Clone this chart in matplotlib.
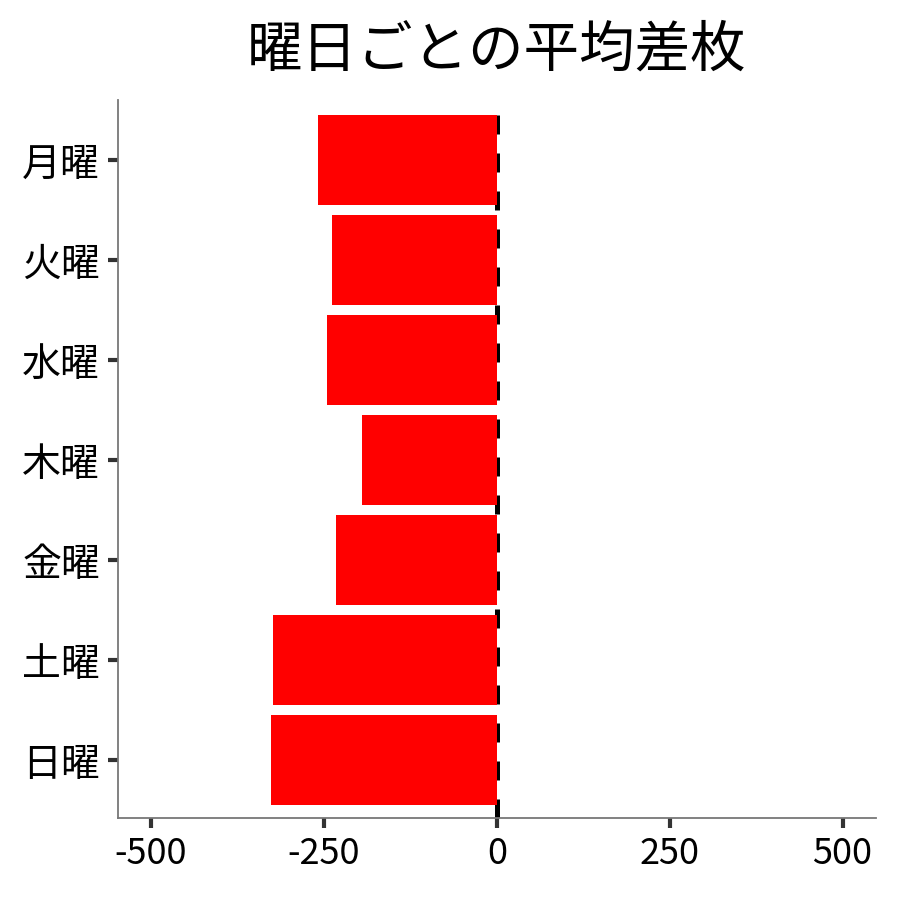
import matplotlib
matplotlib.use("Agg")
import matplotlib.pyplot as plt

plt.rcParams['font.family'] = ['Noto Sans CJK JP', 'DejaVu Sans']

# 曜日ごとの平均差枚
days = ["月曜", "火曜", "水曜", "木曜", "金曜", "土曜", "日曜"]
avg_diff = [-258, -239, -246, -195, -232, -324, -327]

fig = plt.figure(figsize=(9, 9), dpi=100)
ax = fig.add_axes([0.131, 0.091, 0.842, 0.798])

pos = list(range(len(days)))[::-1]
ax.barh(pos, avg_diff, height=0.9, color="#ff0000", zorder=2)
# zero line sits under the bars
ax.axvline(0, color="black", linestyle=(0, (3.8, 3.8)), linewidth=3.6, zorder=1)

ax.set_xlim(-548, 548)
ax.set_ylim(-0.58, 6.6)
ax.set_xticks([-500, -250, 0, 250, 500])
ax.set_xticklabels(["-500", "-250", "0", "250", "500"])
ax.set_yticks(pos)
ax.set_yticklabels(days)

for side in ["top", "right"]:
    ax.spines[side].set_visible(False)
for side in ["left", "bottom"]:
    ax.spines[side].set_color("#777777")
    ax.spines[side].set_linewidth(1.3)

ax.tick_params(axis="both", length=7, width=3, color="#333333", labelcolor="black", pad=6)
ax.tick_params(axis="x", labelsize=26)
ax.tick_params(axis="y", labelsize=28)
ax.set_title("曜日ごとの平均差枚", fontsize=40, pad=24)

fig.savefig("out.png", dpi=100)
